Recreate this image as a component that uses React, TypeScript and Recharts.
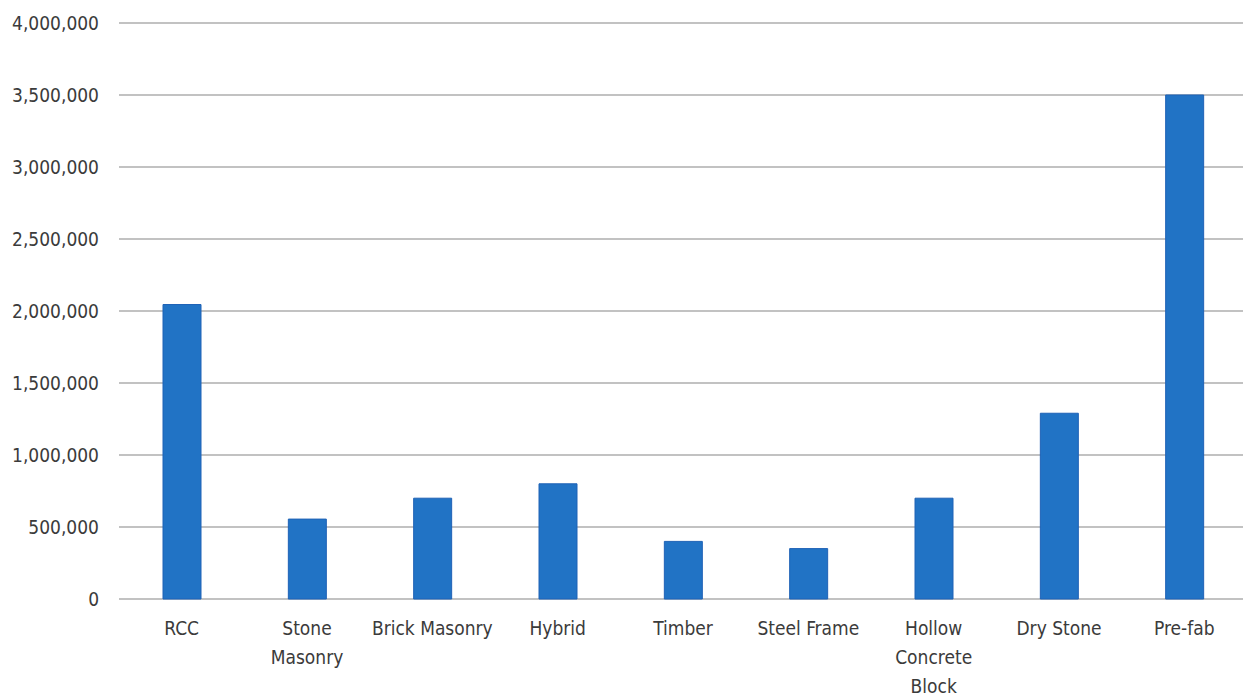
import React from "react";
import { BarChart, Bar, XAxis, YAxis, CartesianGrid } from "recharts";

// Construction types and their cost values
const categories = [
  "RCC",
  "Stone Masonry",
  "Brick Masonry",
  "Hybrid",
  "Timber",
  "Steel Frame",
  "Hollow Concrete Block",
  "Dry Stone",
  "Pre-fab",
];

const costs = [2045000, 555000, 700000, 800000, 400000, 350000, 700000, 1290000, 3500000];

// Category labels as they are wrapped under the axis
const categoryLabelLines = [
  ["RCC"],
  ["Stone", "Masonry"],
  ["Brick Masonry"],
  ["Hybrid"],
  ["Timber"],
  ["Steel Frame"],
  ["Hollow", "Concrete", "Block"],
  ["Dry Stone"],
  ["Pre-fab"],
];

const yTicks = [0, 500000, 1000000, 1500000, 2000000, 2500000, 3000000, 3500000, 4000000];

const data = categories.map((name, i) => ({ name, cost: costs[i] }));

const FONT = "'Liberation Sans Narrow', 'DejaVu Sans Condensed', 'Liberation Sans', sans-serif";
const TEXT = "#3b3b3b";

const CategoryTick = (props: any) => {
  const { x, y, payload } = props;
  const lines = categoryLabelLines[payload.index] || [payload.value];
  return (
    <text x={x} y={y} textAnchor="middle" fill={TEXT} fontFamily={FONT} fontSize={19}>
      {lines.map((line: string, i: number) => (
        <tspan key={i} x={x} dy={i === 0 ? 21 : 29} dominantBaseline="central">
          {line}
        </tspan>
      ))}
    </text>
  );
};

export default function App() {
  return (
    <div style={{ width: 1243, height: 695, overflow: "hidden", background: "#fff" }}>
      <style>{"body{margin:0;overflow:hidden;background:#fff}"}</style>
      <BarChart
        width={1250}
        height={695}
        data={data}
        margin={{ top: 23, right: 3, bottom: 0, left: 0 }}
        barCategoryGap={0}
      >
        <CartesianGrid vertical={false} stroke="#c2c2c2" strokeWidth={1.8} />
        <XAxis
          dataKey="name"
          axisLine={false}
          tickLine={false}
          height={96}
          interval={0}
          tick={<CategoryTick />}
        />
        <YAxis
          width={119}
          domain={[0, 4000000]}
          ticks={yTicks}
          axisLine={false}
          tickLine={false}
          tickSize={0}
          tickMargin={20}
          interval={0}
          tickFormatter={(v: number) => v.toLocaleString("en-US")}
          tick={{ fill: TEXT, fontFamily: FONT, fontSize: 19 }}
        />
        <Bar dataKey="cost" fill="#2173c5" stroke="#1f62b6" strokeWidth={1} barSize={38} isAnimationActive={false} />
      </BarChart>
    </div>
  );
}
